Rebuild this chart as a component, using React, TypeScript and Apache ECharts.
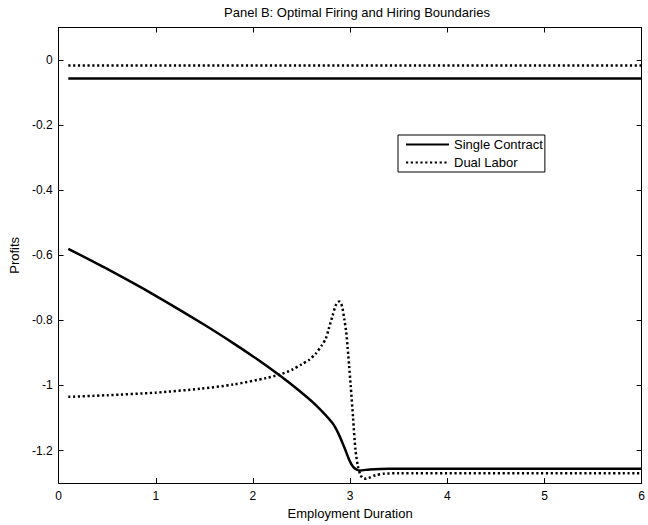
import React, { useEffect, useRef } from "react";
import * as echarts from "echarts";

const seriesNames = ["Single Contract", "Dual Labor"];
const xTickMax = 6;

// Upper (firing) boundaries: flat across durations
const upperX = [0.1, 6.0];
const singleUpperY = [-0.057, -0.057];
const dualUpperY = [-0.017, -0.017];

// Lower (hiring) boundary, single contract
const singleLowerX = [0.1, 0.5, 1.0, 1.5, 1.8, 2.03, 2.27, 2.48, 2.65, 2.82, 2.88, 2.94, 2.99, 3.03, 3.07, 3.1, 3.2, 3.4, 6.0];
const singleLowerY = [-0.58, -0.642, -0.7245, -0.8135, -0.8705, -0.9165, -0.968, -1.017, -1.061, -1.116, -1.148, -1.19, -1.228, -1.25, -1.259, -1.261, -1.258, -1.256, -1.256];

// Lower (hiring) boundary, dual labor
const dualLowerX = [0.1, 0.5, 1.0, 1.46, 1.8, 2.14, 2.27, 2.4, 2.5, 2.58, 2.65, 2.71, 2.75, 2.78, 2.82, 2.85, 2.875, 2.89, 2.905, 2.92, 2.94, 2.96, 2.975, 2.99, 3.005, 3.03, 3.055, 3.08, 3.11, 3.145, 3.19, 3.26, 3.35, 3.5, 6.0];
const dualLowerY = [-1.035, -1.03, -1.022, -1.01, -0.997, -0.977, -0.967, -0.952, -0.935, -0.921, -0.901, -0.876, -0.856, -0.826, -0.785, -0.755, -0.744, -0.742, -0.747, -0.76, -0.796, -0.836, -0.885, -0.94, -0.997, -1.098, -1.198, -1.248, -1.277, -1.287, -1.284, -1.276, -1.271, -1.27, -1.27];

const zip = (xs: number[], ys: number[]) => xs.map((x, i) => [x, ys[i]]);

const FONT = "'Liberation Sans', Arial, sans-serif";

export default function App() {
  const ref = useRef<HTMLDivElement>(null);

  useEffect(() => {
    if (!ref.current) return;
    const chart = echarts.init(ref.current, undefined, { renderer: "svg" });

    const solid = { color: "#000", width: 2.5, type: "solid" as const };
    const dotted = { color: "#000", width: 2.5, type: [2.2, 2.6] as any, cap: "butt" as const };

    const frameLine = { show: true, onZero: false, lineStyle: { color: "#000", width: 1 } };
    const innerTick = { show: true, inside: true, length: 5, lineStyle: { color: "#000", width: 1 } };

    chart.setOption({
      animation: false,
      backgroundColor: "#fff",
      textStyle: { fontFamily: FONT, color: "#000" },
      title: {
        text: "Panel B: Optimal Firing and Hiring Boundaries",
        left: 352,
        textAlign: "center",
        top: 1,
        textStyle: { fontFamily: FONT, fontSize: 13, fontWeight: "normal", color: "#000" },
      },
      legend: {
        data: seriesNames,
        orient: "vertical",
        left: 398,
        top: 135,
        padding: [3, 2, 3, 7],
        itemGap: 5,
        itemWidth: 43,
        itemHeight: 14,
        borderColor: "#000",
        borderWidth: 1,
        backgroundColor: "#fff",
        itemStyle: { opacity: 0 },
        textStyle: { fontFamily: FONT, fontSize: 13, color: "#000" },
      },
      grid: { left: 56.5, right: 2, top: 27.5, bottom: 34.5, containLabel: false },
      xAxis: [
        {
          type: "value",
          min: 0,
          max: xTickMax,
          interval: 1,
          position: "bottom",
          name: "Employment Duration",
          nameLocation: "middle",
          nameGap: 22,
          nameTextStyle: { fontFamily: FONT, fontSize: 13, color: "#000" },
          axisLine: frameLine,
          axisTick: innerTick,
          axisLabel: { color: "#000", fontFamily: FONT, fontSize: 12, margin: 7 },
          splitLine: { show: false },
        },
        {
          type: "value",
          min: 0,
          max: xTickMax,
          interval: 1,
          position: "top",
          axisLine: frameLine,
          axisTick: innerTick,
          axisLabel: { show: false },
          splitLine: { show: false },
        },
      ],
      yAxis: [
        {
          type: "value",
          min: -1.3,
          max: 0.1,
          splitNumber: 7,
          position: "left",
          name: "Profits",
          nameLocation: "middle",
          nameGap: 36,
          nameTextStyle: { fontFamily: FONT, fontSize: 13, color: "#000" },
          axisLine: frameLine,
          axisTick: innerTick,
          axisLabel: { color: "#000", fontFamily: FONT, fontSize: 12, margin: 6, showMinLabel: false, showMaxLabel: false },
          splitLine: { show: false },
        },
        {
          type: "value",
          min: -1.3,
          max: 0.1,
          splitNumber: 7,
          position: "right",
          axisLine: frameLine,
          axisTick: innerTick,
          axisLabel: { show: false },
          splitLine: { show: false },
        },
      ],
      series: [
        {
          name: seriesNames[0], type: "line", data: zip(upperX, singleUpperY),
          symbol: "none", lineStyle: solid, itemStyle: { color: "#000" },
        },
        {
          name: seriesNames[0], type: "line", data: zip(singleLowerX, singleLowerY),
          symbol: "none", smooth: 0.25, lineStyle: solid, itemStyle: { color: "#000" },
        },
        {
          name: seriesNames[1], type: "line", data: zip(upperX, dualUpperY),
          symbol: "none", lineStyle: dotted, itemStyle: { color: "#000" },
        },
        {
          name: seriesNames[1], type: "line", data: zip(dualLowerX, dualLowerY),
          symbol: "none", smooth: 0.25, lineStyle: dotted, itemStyle: { color: "#000" },
        },
      ],
    });

    return () => chart.dispose();
  }, []);

  return (
    <div
      ref={ref}
      style={{ position: "fixed", left: 0, top: 0, width: 648, height: 525, background: "#fff" }}
    />
  );
}
